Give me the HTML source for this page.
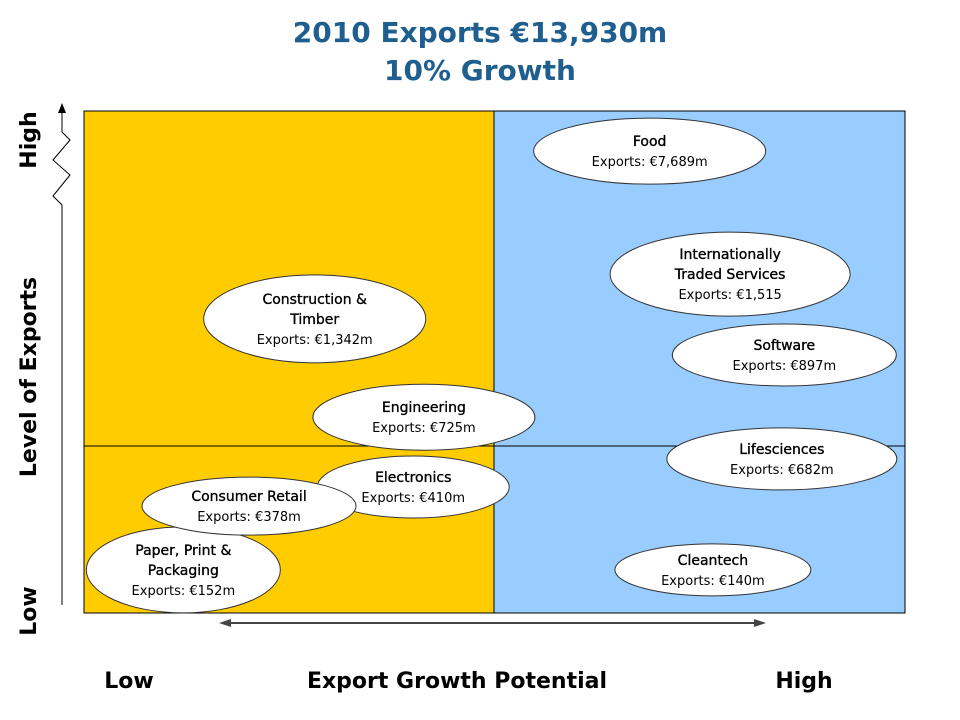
<!DOCTYPE html>
<html><head><meta charset="utf-8"><style>
html,body{margin:0;padding:0;background:#fff;}
svg{display:block;}
.t{font-family:"DejaVu Sans","Liberation Sans",sans-serif;}
</style></head><body>
<svg id="chart" width="960" height="720" viewBox="0 0 960 720">
<text class="t" x="480" y="42" text-anchor="middle" font-size="28" font-weight="bold" fill="#1F5F8F">2010 Exports €13,930m</text>
<text class="t" x="480" y="80" text-anchor="middle" font-size="28" font-weight="bold" fill="#1F5F8F">10% Growth</text>
<rect x="84" y="111" width="410" height="502" fill="#FFCC00"/>
<rect x="494" y="111" width="411" height="502" fill="#99CCFF"/>
<rect x="84" y="111" width="821" height="502" fill="none" stroke="#000" stroke-width="1"/>
<line x1="494" y1="111" x2="494" y2="613" stroke="#000"/>
<line x1="84" y1="446" x2="905" y2="446" stroke="#000"/>
<g>
<polyline points="62,605 62,205 53,196 70,175 53,160 70,140 62,132 62,110" fill="none" stroke="#000" stroke-width="1"/>
<polygon points="62,103 58,113 66,113" fill="#000"/>
</g>
<g>
<line x1="228" y1="623" x2="757" y2="623" stroke="#444" stroke-width="2"/>
<polygon points="219,623 231,619 231,627" fill="#444"/>
<polygon points="766,623 754,619 754,627" fill="#444"/>
</g>
<text class="t" x="129" y="688" text-anchor="middle" font-size="22" font-weight="bold">Low</text>
<text class="t" x="457" y="688" text-anchor="middle" font-size="22" font-weight="bold">Export Growth Potential</text>
<text class="t" x="804" y="688" text-anchor="middle" font-size="22" font-weight="bold">High</text>
<text class="t" transform="translate(36,377) rotate(-90)" text-anchor="middle" font-size="22" font-weight="bold">Level of Exports</text>
<text class="t" transform="translate(36,140) rotate(-90)" text-anchor="middle" font-size="22" font-weight="bold">High</text>
<text class="t" transform="translate(36,611) rotate(-90)" text-anchor="middle" font-size="22" font-weight="bold">Low</text>
<g id="bubbles"></g>
</svg>
<script>
const sectorNames = [["Food"],["Internationally","Traded Services"],["Construction &","Timber"],["Software"],["Engineering"],["Lifesciences"],["Electronics"],["Consumer Retail"],["Paper, Print &","Packaging"],["Cleantech"]];
const exportLabels = ["€7,689m","€1,515","€1,342m","€897m","€725m","€682m","€410m","€378m","€152m","€140m"];
const growthPotential = [68.9,78.7,28.1,85.3,41.4,85.0,40.1,20.1,12.1,76.6];
const exportLevel = [92.0,67.5,58.6,51.4,39.0,30.7,25.1,21.3,8.6,8.6];
const X0=84,X1=905,Y0=613,Y1=111;
function xs(v){return X0+(X1-X0)*v/100;}
function ys(v){return Y0-(Y0-Y1)*v/100;}
const ns="http://www.w3.org/2000/svg";
const g=document.getElementById('bubbles');
// ellipse sizes (styling)
const sizes=[[116,33],[120,42],[111,44],[112,31],[111,33],[115,31],[96,31],[107,29],[97,43],[98,26]];
const order=[0,1,2,3,5,9,4,6,8,7];
order.forEach(i=>{
  const cx=xs(growthPotential[i]), cy=ys(exportLevel[i]);
  const grp=document.createElementNS(ns,'g');
  
  
  const e=document.createElementNS(ns,'ellipse');
  e.setAttribute('cx',cx);e.setAttribute('cy',cy);
  e.setAttribute('rx',sizes[i][0]);e.setAttribute('ry',sizes[i][1]);
  e.setAttribute('fill','#fff');e.setAttribute('stroke','#333');e.setAttribute('stroke-width','1');
  
  
  grp.appendChild(e);
  const lines=sectorNames[i].concat(['Exports: '+exportLabels[i]]);
  const n=lines.length, y0=cy-(n-1)*10+5;
  lines.forEach((s,k)=>{
    const t=document.createElementNS(ns,'text');
    t.setAttribute('class','t');
    t.setAttribute('x',cx);t.setAttribute('y',y0+k*20);
    t.setAttribute('text-anchor','middle');
    const isName=k<n-1;
    t.setAttribute('font-size',isName?'14':'13');
    if(isName){t.setAttribute('stroke','#000');t.setAttribute('stroke-width','0.35');}
    t.textContent=s;
    
    
    grp.appendChild(t);
  });
  g.appendChild(grp);
});
</script>
</body></html>
